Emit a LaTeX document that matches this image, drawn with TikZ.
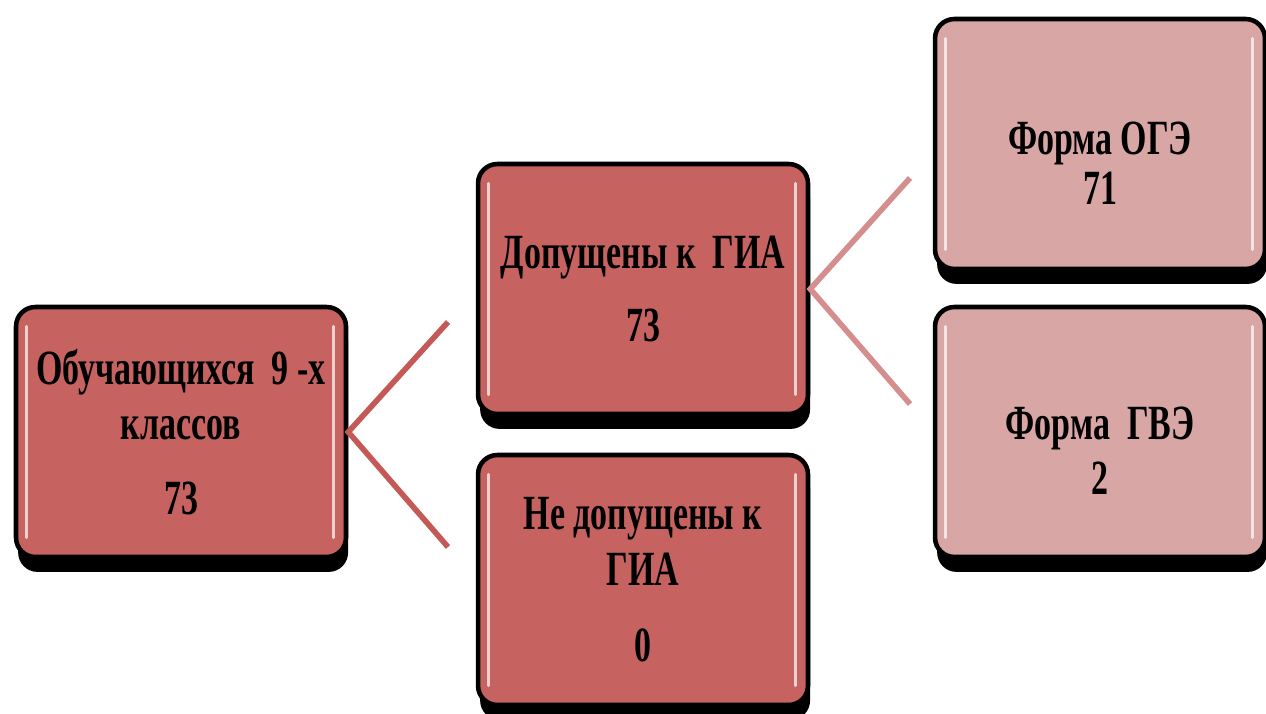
\documentclass[tikz,border=0pt]{standalone}
\usepackage{fontspec}
\usepackage{tikz}
\usetikzlibrary{shadows}
\newfontfamily\boxfont{Liberation Serif}[FakeStretch=0.69]
\definecolor{boxred}{RGB}{198,99,97}
\definecolor{boxpink}{RGB}{217,166,166}
\definecolor{linered}{RGB}{196,90,88}
\definecolor{linepink}{RGB}{212,142,142}
\newcommand{\lowstrut}{\rule{0pt}{40pt}}

\tikzset{
  gbox/.style={rectangle, rounded corners=11pt, draw=black, line width=2.6pt,
    minimum width=6.6cm, minimum height=5cm, align=center,
    font=\boxfont\bfseries\fontsize{28}{31.5}\selectfont,
    drop shadow={fill=black, opacity=1, shadow xshift=1.2pt, shadow yshift=-8.5pt},
    path picture={
      \draw[white, opacity=.7, line width=1.8pt, line cap=round]
        ([shift={(6pt,-11pt)}]path picture bounding box.north west) -- ([shift={(6pt,11pt)}]path picture bounding box.south west)
        ([shift={(-7pt,-11pt)}]path picture bounding box.north east) -- ([shift={(-7pt,11pt)}]path picture bounding box.south east);
    }},
  redbox/.style={gbox, fill=boxred},
  pinkbox/.style={gbox, fill=boxpink},
  branch/.style={line width=3.2pt}
}

\begin{document}
\begin{tikzpicture}[x=0.02cm, y=-0.02cm]
\useasboundingbox (0,0) rectangle (1266,713);

% pupils
\node[redbox] (pupils) at (181,432) {Обучающихся~ 9 -х\\классов\\[11pt]73};

% admitted / not admitted
\node[redbox] (admitted) at (643,289) {Допущены к~ ГИА\\[10pt]73};
\node[redbox] (notadmitted) at (643,580) {Не допущены к\\ГИА\\[12pt]0};

% exam forms
\node[pinkbox] (oge) at (1100,144) {\lowstrut Форма ОГЭ\\[-3pt]71};
\node[pinkbox] (gve) at (1100,432) {\lowstrut Форма~ ГВЭ\\2};

% branches
\coordinate (pupilsup) at (448,322);
\coordinate (pupilsdown) at (448,547);
\coordinate (admup) at (910,178);
\coordinate (admdown) at (910,404);
\draw[branch, linered] (pupilsup) -- (pupils.east) -- (pupilsdown);
\draw[branch, linepink] (admup) -- (admitted.east) -- (admdown);

\end{tikzpicture}
\end{document}
